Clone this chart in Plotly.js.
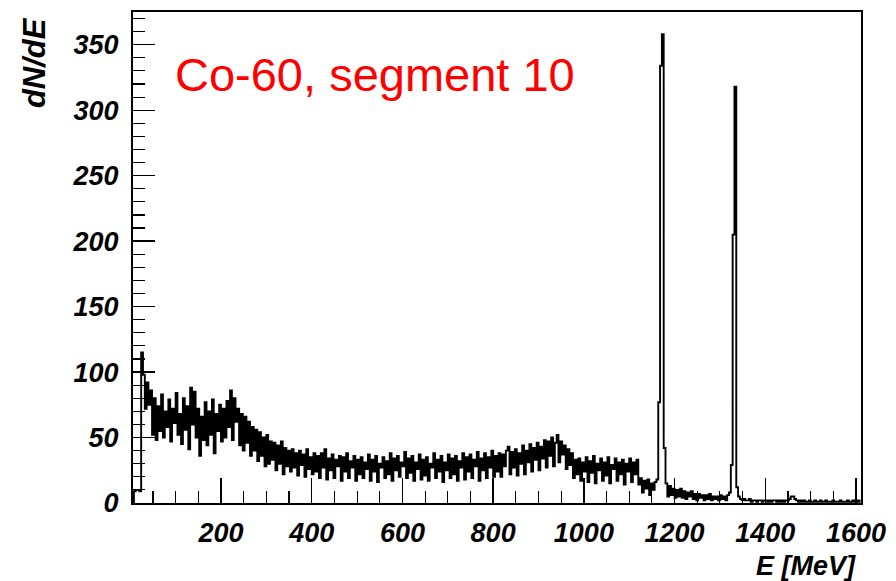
<!DOCTYPE html>
<html>
<head>
<meta charset="utf-8">
<script src="https://cdn.plot.ly/plotly-3.0.1.min.js"></script>
<style>html,body{margin:0;padding:0;background:#fff;}#chart{width:896px;height:581px;}</style>
</head>
<body>
<div id="chart"></div>
<script>
// Histogram bins: centre of first bin and bin width (keV)
const firstBinCenter = 6;
const binWidth = 4;

// Counts per bin (E = 6 ... 406)
const countsA = [0,
  9,10,10,9,115,98,72,92,75,86,52,80,48,74,55,83,50,70,58,79,47,72,61,84,52,
  68,45,80,56,74,41,88,60,85,50,72,36,66,48,77,44,70,52,79,38,68,55,75,47,72,
  50,78,58,86,48,80,62,72,44,68,40,66,46,62,36,58,40,56,32,54,36,50,28,52,30,
  47,33,46,25,44,30,47,22,42,28,40,24,41,27,38,21,40,29,37,20,41,26,35,22,38];
// E = 410 ... 806
const countsB = [
  24,36,19,38,27,41,18,34,25,37,19,33,28,36,17,35,24,38,19,32,27,36,17,33,22,
  35,19,31,26,37,17,33,24,36,16,30,27,35,19,32,22,38,17,34,25,36,20,31,28,39,
  19,34,23,36,17,31,26,37,18,33,21,35,17,30,27,38,19,33,24,36,16,31,25,37,19,
  34,22,36,17,32,27,38,18,35,24,37,19,33,28,39,17,34,25,38,19,35,27,40,20,36];
// E = 810 ... 1206 (first Co-60 line near 1173)
const countsC = [
  24,38,20,37,28,40,43,22,39,27,41,21,38,30,44,22,40,31,45,24,42,33,46,25,43,
  34,48,27,47,36,50,28,46,52,31,47,37,44,26,41,29,38,19,33,22,34,17,31,24,35,
  16,32,23,36,15,30,25,34,17,31,21,35,15,29,26,34,17,31,22,33,14,30,24,34,16,
  31,22,33,14,19,8,17,11,18,6,15,10,16,18,77,334,358,42,15,5,13,6,11,4,10];
// E = 1210 ... 1610 (second Co-60 line near 1332)
const countsD = [
  5,11,4,9,3,8,5,9,3,7,2,7,4,6,2,6,3,7,2,5,3,5,2,6,3,
  5,2,6,8,29,205,318,12,5,3,2,3,2,2,3,1,2,2,1,2,2,1,2,2,1,
  2,1,2,2,1,2,1,2,1,2,2,3,5,5,3,2,1,2,1,2,1,1,2,1,1,
  2,1,1,2,1,1,2,1,1,1,2,1,1,1,2,1,1,1,2,1,1,2,1,1,2,
  1];

const counts = countsA.concat(countsB, countsC, countsD);

const xTitle = 'E [MeV]';
const yTitle = 'dN/dE';
const label = 'Co-60, segment 10';

const fam = '"Liberation Sans", Arial, Helvetica, sans-serif';
const tickFont = {family: fam, size: 27, color: '#000', weight: 'bold', style: 'italic'};

const trace = {
  type: 'scatter',
  mode: 'lines',
  x0: firstBinCenter,
  dx: binWidth,
  y: counts,
  line: {color: '#000', width: 1.9, shape: 'hvh', simplify: false},
  hoverinfo: 'skip'
};

const layout = {
  width: 896,
  height: 581,
  margin: {l: 133, r: 35, t: 12, b: 78, pad: 0},
  paper_bgcolor: '#fff',
  plot_bgcolor: '#fff',
  showlegend: false,
  xaxis: {
    range: [6, 1611],
    showline: true, linecolor: '#000', linewidth: 2, mirror: true,
    showgrid: false, zeroline: false,
    ticks: 'inside', ticklen: 25, tickwidth: 1.3, tickcolor: '#000',
    tick0: 0, dtick: 200,
    minor: {ticks: 'inside', ticklen: 12, tickwidth: 1.1, tickcolor: '#000', dtick: 50, tick0: 0, showgrid: false},
    tickfont: tickFont,
    ticklabelstandoff: 5
  },
  yaxis: {
    range: [0, 375],
    showline: true, linecolor: '#000', linewidth: 2, mirror: true,
    showgrid: false, zeroline: false,
    ticks: 'inside', ticklen: 22, tickwidth: 1.3, tickcolor: '#000',
    tick0: 0, dtick: 50,
    minor: {ticks: 'inside', ticklen: 12, tickwidth: 1.1, tickcolor: '#000', dtick: 10, tick0: 0, showgrid: false},
    tickfont: tickFont,
    ticklabelstandoff: 7
  },
  annotations: [
    {
      text: yTitle, xref: 'paper', yref: 'paper',
      x: -0.136, y: 0.898, xanchor: 'center', yanchor: 'middle',
      textangle: -90, showarrow: false,
      font: {family: fam, size: 31, color: '#000', weight: 'bold', style: 'italic'}
    },
    {
      text: xTitle, xref: 'paper', yref: 'paper',
      x: 0.996, y: -0.129, xanchor: 'right', yanchor: 'middle',
      showarrow: false,
      font: {family: fam, size: 27, color: '#000', weight: 'bold', style: 'italic'}
    },
    {
      text: label, xref: 'paper', yref: 'paper',
      x: 0.0555, y: 0.872, xanchor: 'left', yanchor: 'middle',
      showarrow: false,
      font: {family: fam, size: 47, color: 'rgb(255,0,0)'}
    }
  ]
};

Plotly.newPlot('chart', [trace], layout, {displayModeBar: false, staticPlot: true});
</script>
</body>
</html>
